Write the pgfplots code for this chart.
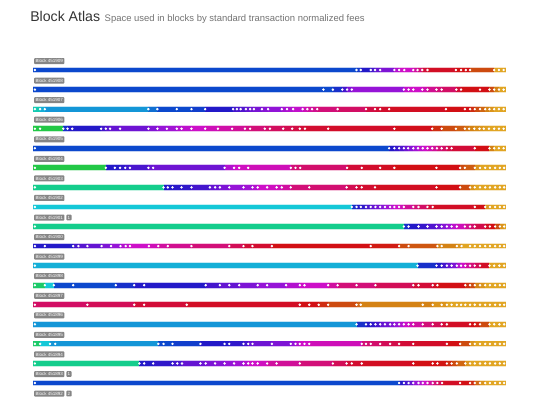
\documentclass[border=0pt]{standalone}
\usepackage{fontspec}
\setmainfont{Liberation Sans}
\usepackage{pgfplots}
\usepackage{pgfplotstable}
\pgfplotsset{compat=1.18}
\definecolor{labgray}{HTML}{858585}
\tikzset{blk/.style={anchor=west, fill=labgray, rounded corners=0.6pt, inner sep=1pt, text=white, font=\fontsize{3.4}{3.7}\selectfont}}

% columns: p = start of fee bucket (% of block space), c = fee level (colour)
\pgfplotstableread{
p c
0 4
68.4 4.3
69.3 5
71.4 5.5
72.3 6
73.4 6.5
76.4 7.5
77.4 8
78.5 8
80.4 8.5
81.3 9
82.3 10
83.4 10.5
89.4 11
90.5 11
91.5 11
92.4 12
97.5 14
98.5 14
99.5 14
100 14
}\rowA
\pgfplotstableread{
p c
0 4
61.4 4
63.4 4.5
65.4 5.5
66.4 6.5
67.4 7
78.4 7.8
79.4 8
80.4 8
82.3 8.3
83.4 8.7
85.3 9
86.4 9.3
89.5 10
90.5 11
94.5 11
96.5 12
97.5 13
98.5 14
99.5 14
100 14
}\rowB
\pgfplotstableread{
p c
0 1.5
1.5 2.5
2.5 3
24.4 3.5
26.3 4
30.4 4
33.5 4.2
36.4 5
42.3 5.5
43.1 5.6
43.9 5.7
45.0 6
45.9 6.2
46.7 6.4
48.4 6.7
49.7 6.9
52.6 7.3
53.7 7.5
55.0 7.8
57.0 8.2
58.0 8.5
59.0 8.7
60.1 9
64.4 9.3
70.4 9.8
72.3 10
73.4 10.3
75.3 10.6
87.3 11
91.3 11
92.4 11.5
93.4 12
94.5 12.5
95.6 13
96.5 13.5
97.5 14
98.5 14
99.5 14
100 14
}\rowC
\pgfplotstableread{
p c
0 0
1.5 0
6.4 4.5
7.3 5
8.3 5
14.4 5.5
15.4 5.8
16.3 6
18.4 6.2
24.4 6.6
26.3 7
28.3 7.2
30.4 7.5
31.4 7.7
33.5 8
36.4 8.2
39.1 8.4
42.1 8.6
44.8 8.8
45.9 9
49.0 9.2
50.1 9.4
52.9 9.6
54.8 9.8
56.4 10
57.5 10.2
62.4 10.4
76.4 10.8
84.4 11.5
86.4 12
89.4 12.3
91.3 12.7
92.2 13
93.3 13.3
94.4 13.6
95.3 13.8
96.4 14
97.5 14
98.5 14
99.5 14
100 14
}\rowD
\pgfplotstableread{
p c
0 4
75.3 5
76.4 5.3
77.4 5.7
78.4 6.2
79.3 6.7
80.4 7.2
81.4 7.7
82.4 8
83.4 8.3
84.4 8.6
85.4 9
86.4 9.3
87.5 9.7
88.5 10
93.4 11
96.5 13
97.5 14
98.5 14
99.5 14
100 14
}\rowE
\pgfplotstableread{
p c
0 0
15.4 5
17.3 5
18.4 5.2
19.5 5.4
20.5 5.6
24.4 6
25.4 6.2
40.5 7.5
42.5 8
43.6 8.1
45.5 8.2
54.5 9
55.5 9.1
56.5 9.2
66.4 10
69.5 10.3
73.4 10.6
76.4 11
85.3 11
90.3 12
91.3 12.3
93.4 13.5
94.5 14
95.6 14
96.6 14
97.7 14
98.7 14
99.6 14
100 14
}\rowF
\pgfplotstableread{
p c
0 1
27.6 5
28.5 5
29.5 5.1
31.4 5.2
33.5 5.5
37.4 6
38.5 6.1
39.5 6.5
41.5 7
44.5 7.2
46.4 7.5
47.5 8
49.5 8.1
51.5 8.2
52.6 8.5
54.5 9
58.4 9.1
66.3 9.6
68.4 10
69.5 10.2
72.3 10.6
85.3 11
90.3 12
92.4 13.5
93.4 14
94.5 14
95.6 14
96.6 14
97.7 14
98.7 14
99.6 14
100 14
}\rowG
\pgfplotstableread{
p c
0 2
67.4 4.5
68.4 5
69.3 5.2
70.4 5.6
71.4 6
72.4 6.3
73.4 6.7
74.4 7.2
75.5 7.6
76.4 8
77.4 8.2
78.4 8.6
80.4 9
81.5 9.3
83.4 10
84.5 10.5
93.4 11
95.6 13.5
96.6 14
97.7 14
98.7 14
99.6 14
100 14
}\rowH
\pgfplotstableread{
p c
0 1
78.4 4.5
79.4 5
81.5 5.3
83.4 5.7
85.3 6.2
86.4 6.7
87.5 7.2
88.5 7.7
89.6 8.2
91.3 8.7
92.4 9.2
93.4 9.7
95.6 10.5
96.6 11
97.7 12
98.7 13.5
99.6 14
100 14
}\rowI
\pgfplotstableread{
p c
0 5
2.5 5
8.5 5.5
9.6 5.8
11.5 6
14.5 6.5
16.5 7
18.5 7.5
19.6 7.8
20.5 8
24.5 8.2
26.5 8.5
28.5 8.7
33.5 9
41.5 9.5
44.5 10
46.4 10.2
50.5 11
71.4 11.2
77.4 12
79.4 12.2
85.5 13
86.4 13
89.6 13.5
90.6 14
92.4 14
93.4 14
94.5 14
95.6 14
96.6 14
97.7 14
98.7 14
99.6 14
100 14
}\rowJ
\pgfplotstableread{
p c
0 2.5
81.3 4.5
85.3 5
86.4 5.5
87.5 6
88.5 6.5
89.6 7.5
90.5 8
91.4 8.5
92.4 9
93.4 9.5
94.5 10.5
96.5 14
97.5 14
98.6 14
99.6 14
100 14
}\rowK
\pgfplotstableread{
p c
0 0.5
2.5 2
4.4 4
8.5 4
17.5 4.5
21.4 5
23.5 5
36.5 5.5
39.5 6
41.5 6
43.6 6.5
47.5 7
49.5 7
53.5 7.5
56.4 8
57.4 8
62.4 8.5
64.4 9
68.4 9
72.4 9.5
80.4 10
81.5 10
84.5 10.5
85.5 11
91.4 11.5
92.4 12
93.4 13
94.5 13.5
95.6 14
96.6 14
97.7 14
98.7 14
99.6 14
100 14
}\rowL
\pgfplotstableread{
p c
0 9.3
11.5 9.5
21.4 10
23.5 10
32.5 10.5
56.4 11
58.4 11
60.4 11.5
62.4 12
68.4 12.5
69.3 13
82.4 13
84.5 13.5
86.4 13.5
87.5 14
88.5 14
89.6 14
90.5 14
91.4 14
92.4 14
93.4 14
94.5 14
95.6 14
96.6 14
97.7 14
98.7 14
99.6 14
100 14
}\rowM
\pgfplotstableread{
p c
0 3
68.4 4.5
70.4 5
71.4 5.2
72.4 5.5
73.4 6
74.4 6.2
75.5 6.6
76.4 7
77.4 7.5
78.4 8
79.4 8.2
80.4 8.5
82.4 9
84.5 9.5
86.4 10
87.5 10.5
92.4 11
93.4 11.2
94.5 12
96.5 14
97.5 14
98.6 14
99.6 14
100 14
}\rowN
\pgfplotstableread{
p c
0 0.5
1.5 2
3.6 3
4.7 3
26.5 4
27.6 4
29.5 4.2
35.4 5
40.5 5
41.5 5.2
44.5 5.5
45.5 6
46.4 6.2
50.5 6.5
54.5 7
55.5 7.5
56.4 8
57.4 8
58.4 8.2
69.5 9
70.4 9.1
71.4 9.2
73.4 9.5
75.5 9.7
77.4 10
80.4 10.4
87.5 11
90.3 12
92.4 13.5
93.4 14
94.5 14
95.6 14
96.6 14
97.7 14
98.7 14
99.6 14
100 14
}\rowO
\pgfplotstableread{
p c
0 1
22.5 5
23.5 5
25.4 5.2
29.5 5.5
30.5 5.6
31.5 6
35.4 6.2
36.5 6.5
38.5 6.7
40.5 7
42.5 7.2
44.5 7.5
45.5 8
46.4 8
47.5 8.1
49.5 8.5
51.5 8.6
56.4 9
63.4 9.5
66.3 10
67.4 10.2
69.5 10.6
80.4 11
84.5 11
85.5 11.1
87.5 11.5
88.5 12
89.6 12.5
91.4 13.5
92.4 14
93.4 14
94.5 14
95.6 14
96.6 14
97.7 14
98.7 14
99.6 14
100 14
}\rowP
\pgfplotstableread{
p c
0 4
77.4 5
78.4 5.5
79.4 6
80.4 7
81.5 7.5
82.4 8
83.4 8.5
84.5 9
85.5 9.5
86.5 10.5
90.3 11
92.4 11.5
93.4 12.5
94.5 13.5
95.6 14
96.6 14
97.7 14
98.7 14
99.6 14
100 14
}\rowQ

\newcommand{\blockrow}[2]{%
  \addplot[mesh, shader=flat corner, line width=5pt, opacity=0.25, point meta=explicit, forget plot] table[x=p, y expr=#2, meta=c] {#1};
  \addplot[mesh, shader=flat corner, line width=3.6pt, point meta=explicit, forget plot] table[x=p, y expr=#2, meta=c] {#1};
  \addplot[only marks, color=white, mark=*, mark size=0.7pt, forget plot,
    x filter/.expression={x<0.1 ? 0.4 : (x>99.9 ? nan : x)}] table[x=p, y expr=#2] {#1};
}

\begin{document}
\begin{tikzpicture}
\useasboundingbox (0,0) rectangle (405pt,-303.75pt);
\node[anchor=base west, inner sep=0, text=black!80, font=\fontsize{10.6}{12}\selectfont] (t) at (22.5pt,-16pt) {Block Atlas};
\node[anchor=base west, inner sep=0, text=black!55, font=\fontsize{7.1}{8}\selectfont] at ([xshift=3pt]t.base east) {Space used in blocks by standard transaction normalized fees};
\begin{axis}[at={(24.75pt,-45.17pt)}, anchor=north west, scale only axis,
  width=354.75pt, height=249.42pt,
  xmin=0, xmax=100, ymin=0.5, ymax=17.5, y dir=reverse,
  hide axis, clip=false,
  colormap={atlas}{rgb255=(34,200,70) rgb255=(20,205,140) rgb255=(20,200,215) rgb255=(20,150,215) rgb255=(12,72,205) rgb255=(35,25,200) rgb255=(100,20,210) rgb255=(150,20,215) rgb255=(205,15,200) rgb255=(210,15,120) rgb255=(210,12,55) rgb255=(210,15,20) rgb255=(205,75,15) rgb255=(212,130,20) rgb255=(225,165,35)},
  point meta min=0, point meta max=14]
\blockrow{\rowA}{1}
\blockrow{\rowB}{2}
\blockrow{\rowC}{3}
\blockrow{\rowD}{4}
\blockrow{\rowE}{5}
\blockrow{\rowF}{6}
\blockrow{\rowG}{7}
\blockrow{\rowH}{8}
\blockrow{\rowI}{9}
\blockrow{\rowJ}{10}
\blockrow{\rowK}{11}
\blockrow{\rowL}{12}
\blockrow{\rowM}{13}
\blockrow{\rowN}{14}
\blockrow{\rowO}{15}
\blockrow{\rowP}{16}
\blockrow{\rowQ}{17}
\node[blk] at (axis cs:0.2,0.54) {Block 451909};
\node[blk] at (axis cs:0.2,1.54) {Block 451908};
\node[blk] at (axis cs:0.2,2.54) {Block 451907};
\node[blk] at (axis cs:0.2,3.54) {Block 451906};
\node[blk] at (axis cs:0.2,4.54) {Block 451905};
\node[blk] at (axis cs:0.2,5.54) {Block 451904};
\node[blk] at (axis cs:0.2,6.54) {Block 451903};
\node[blk] at (axis cs:0.2,7.54) {Block 451902};
\node[blk] at (axis cs:0.2,8.54) {Block 451901};
\node[blk] at (axis cs:7.0,8.54) {1};
\node[blk] at (axis cs:0.2,9.54) {Block 451900};
\node[blk] at (axis cs:0.2,10.54) {Block 451899};
\node[blk] at (axis cs:0.2,11.54) {Block 451898};
\node[blk] at (axis cs:0.2,12.54) {Block 451897};
\node[blk] at (axis cs:0.2,13.54) {Block 451896};
\node[blk] at (axis cs:0.2,14.54) {Block 451895};
\node[blk] at (axis cs:0.2,15.54) {Block 451894};
\node[blk] at (axis cs:0.2,16.54) {Block 451893};
\node[blk] at (axis cs:7.0,16.54) {1};
\node[blk] at (axis cs:0.2,17.54) {Block 451892};
\node[blk] at (axis cs:7.0,17.54) {2};
\end{axis}
\end{tikzpicture}
\end{document}
